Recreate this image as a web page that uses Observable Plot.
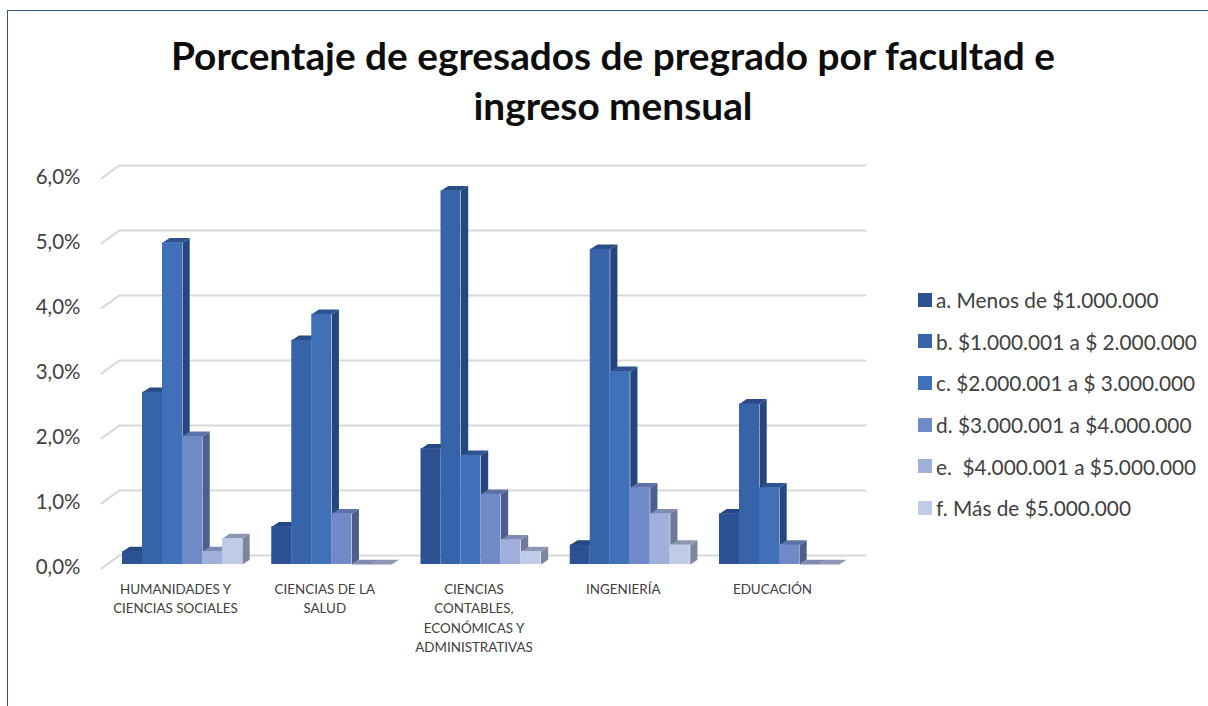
<!DOCTYPE html>
<html lang="es"><head><meta charset="utf-8">
<script src="https://cdn.jsdelivr.net/npm/d3@7"></script>
<script src="https://cdn.jsdelivr.net/npm/@observablehq/plot@0.6"></script>
<style>
html,body{margin:0;padding:0;background:#fff;overflow:hidden;width:1208px;height:706px;font-family:Lato,sans-serif}
#frame{position:absolute;left:7px;top:10px;width:1300px;height:800px;border-left:1px solid #2f5486;border-top:1px solid #2f5486;pointer-events:none}
#title{height:140px;box-sizing:border-box;padding:30px 0 0 18px;text-align:center;font-weight:700;font-size:38.8px;line-height:50px;color:#0d0d0d}
#legend{position:absolute;left:918px;top:279px;color:#404040;font-size:20.8px}
#legend div{height:41.6px;display:flex;align-items:center}
#legend i{display:inline-block;width:14px;height:14px;margin-right:4px}
svg{display:block}
</style></head><body>
<div id="frame"></div>
<div id="title">Porcentaje de egresados de pregrado por facultad e<br>ingreso mensual</div>
<div id="chart"></div>
<div id="legend"></div>
<script>
const categories = ["HUMANIDADES Y\nCIENCIAS SOCIALES","CIENCIAS DE LA\nSALUD","CIENCIAS\nCONTABLES,\nECONÓMICAS Y\nADMINISTRATIVAS","INGENIERÍA","EDUCACIÓN"];
const series = ["a. Menos de $1.000.000","b. $1.000.001 a $ 2.000.000","c. $2.000.001 a $ 3.000.000","d. $3.000.001 a $4.000.000","e.  $4.000.001 a $5.000.000","f. Más de $5.000.000"];
const valA = [0.2,0.58,1.78,0.3,0.78];
const valB = [2.65,3.45,5.75,4.85,2.47];
const valC = [4.95,3.85,1.68,2.97,1.18];
const valD = [1.97,0.78,1.08,1.18,0.3];
const valE = [0.2,0,0.38,0.78,0];
const valF = [0.4,0,0.2,0.3,0];
const yTicks = [0,1,2,3,4,5,6];
const frontColors = ["#2c5293","#3763ab","#4070b8","#6f8ac7","#a1b0da","#c0cbe7"];
const sideColors  = ["#22407a","#25477f","#25477f","#4c5f8c","#6f7a99","#7e869c"];
const topColors   = ["#254782","#2a4d88","#2c5290","#5d73a8","#7f8cb0","#8e97b2"];
const values = [valA,valB,valC,valD,valE,valF];

const groupStep = 7.4625, depthX = 0.36, depthY = 0.075;
const fronts = [], faces = [];
categories.forEach((c,k)=>{
  series.forEach((s,j)=>{
    const v = values[j][k], x0 = k*groupStep + j, x1 = x0 + 1;
    fronts.push({x1:x0,x2:x1,y1:0,y2:v,fill:frontColors[j]});
    [[x1,0],[x1+depthX,depthY],[x1+depthX,v+depthY],[x1,v]].forEach(([x,y])=>faces.push({id:`s${k}-${j}`,x,y,fill:sideColors[j]}));
    [[x0,v],[x1,v],[x1+depthX,v+depthY],[x0+depthX,v+depthY]].forEach(([x,y])=>faces.push({id:`t${k}-${j}`,x,y,fill:topColors[j]}));
  });
});
const grid = yTicks.flatMap(t=>[
  {t,x:-1.05,y:t-0.06},{t,x:-0.15,y:t+0.14},{t,x:37.15,y:t+0.14}
]);
const labels = categories.map((c,k)=>({c,x:k*groupStep+2.65}));

const chart = Plot.plot({
  width:900,height:566,marginLeft:80,marginRight:0,marginTop:0,marginBottom:0,
  style:{fontFamily:"Lato,sans-serif",background:"transparent"},
  x:{domain:[0,37],range:[122,862],axis:null},
  y:{domain:[0,6],range:[424,34],axis:null},
  marks:[
    Plot.line(grid,{x:"x",y:"y",z:"t",stroke:"#d9d9d9",strokeWidth:2,curve:"linear"}),
    Plot.axisY(yTicks,{anchor:"left",tickSize:0,tickPadding:0,tickFormat:d=>d.toFixed(1).replace(".",",")+"%",fontSize:20.5,fill:"#404040",dy:2.5,label:null,ticks:yTicks}),
    Plot.line(faces,{x:"x",y:"y",z:"id",fill:"fill",stroke:"none",curve:"linear"}),
    Plot.rect(fronts,{x1:"x1",x2:"x2",y1:"y1",y2:"y2",fill:"fill"}),
    Plot.text(labels,{x:"x",y:-0.235,text:"c",lineAnchor:"top",textAnchor:"middle",fontSize:13.4,lineHeight:1.46,fill:"#404040"})
  ]
});
document.getElementById("chart").append(chart);

const legend = document.getElementById("legend");
series.forEach((s,j)=>{
  const row = document.createElement("div");
  const sw = document.createElement("i"); sw.style.background = frontColors[j];
  const t = document.createElement("span"); t.textContent = s; t.style.whiteSpace="pre";
  row.append(sw,t); legend.append(row);
});
</script>
</body></html>
